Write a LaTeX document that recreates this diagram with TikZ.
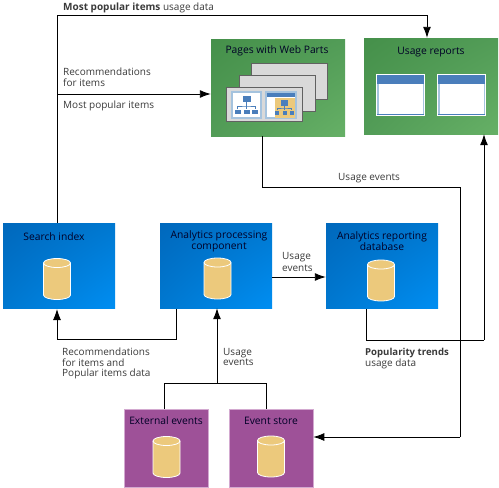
\documentclass[tikz,border=0pt]{standalone}
\usepackage{fontspec}
\setmainfont{Open Sans}
\usetikzlibrary{arrows.meta,shadings}
\definecolor{blueA}{HTML}{0068BC}
\definecolor{blueB}{HTML}{0078D0}
\definecolor{blueC}{HTML}{008EF2}
\definecolor{greenA}{HTML}{45904A}
\definecolor{greenB}{HTML}{529C57}
\definecolor{greenC}{HTML}{66B066}
\definecolor{plum}{HTML}{9E5198}
\definecolor{plumedge}{HTML}{D3A9D0}
\definecolor{dbfill}{HTML}{ECC97C}
\definecolor{webblue}{HTML}{4A7EBB}
\definecolor{webpale}{HTML}{A5C3DE}
\definecolor{sheetgray}{HTML}{D9D9D9}
\definecolor{labelgray}{HTML}{3A3A3A}
\tikzset{
  flow/.style={line width=0.9pt,line join=miter},
  arrowflow/.style={flow,-{Latex[length=11pt,width=8pt]}},
  bluebox/.style={rectangle,minimum width=112pt,minimum height=85pt,inner sep=0pt,
    upper left=blueA,upper right=blueB,lower left=blueB,lower right=blueC},
  greenbox/.style={rectangle,minimum width=134pt,minimum height=97pt,inner sep=0pt,
    upper left=greenA,upper right=greenB,lower left=greenB,lower right=greenC},
  plumbox/.style={rectangle,minimum width=84pt,minimum height=78pt,inner sep=0pt,
    fill=plum,draw=plumedge,line width=0.6pt},
  dbicon/.pic={
    \path[draw=white,fill=dbfill,line width=0.8pt,x=1pt,y=1pt] (-13.5,16)
      -- (-13.5,-16) arc[start angle=180,end angle=360,x radius=13.5,y radius=4.5]
      -- (13.5,16) arc[start angle=0,end angle=180,x radius=13.5,y radius=4.5] -- cycle;
    \draw[white,line width=0.8pt,x=1pt,y=1pt] (-13.5,16)
      arc[start angle=180,end angle=360,x radius=13.5,y radius=4.5];
  },
  boxtitle/.style={font=\fontsize{10.3}{10.8}\selectfont,align=center,text=black!85!blue,inner sep=0pt},
  flowlabel/.style={font=\fontsize{10}{10.7}\selectfont,align=left,text=labelgray,inner sep=0pt,anchor=west},
  sheet/.style={rectangle,draw=black!62,fill=sheetgray,line width=0.8pt,minimum width=76pt,minimum height=36pt,inner sep=0pt},
  webframe/.style={rectangle,draw=webpale,fill=white,line width=1.2pt,inner sep=0pt},
  webpart/.style={rectangle,fill=webblue,inner sep=0pt}
}
\begin{document}
\begin{tikzpicture}[x=1pt,y=-1pt]
\useasboundingbox (0,0) rectangle (499,488);

% boxes
\node[bluebox] (search) at (59,265.5) {};
\node[bluebox] (processing) at (216,265.5) {};
\node[bluebox] (reporting) at (382,265.5) {};
\node[greenbox] (pages) at (278,87.5) {};
\node[greenbox,minimum height=96pt] (reports) at (431,86) {};
\node[plumbox] (external) at (166.5,448) {};
\node[plumbox] (store) at (271,448) {};

% box titles
\node[boxtitle] (searchtitle) at (54,237) {Search index};
\node[boxtitle] (processingtitle) at (219,241.5) {Analytics processing\\component};
\node[boxtitle] (reportingtitle) at (382,241.5) {Analytics reporting\\database};
\node[boxtitle] (pagestitle) at (277,51) {Pages with Web Parts};
\node[boxtitle] (reportstitle) at (431,52) {Usage reports};
\node[boxtitle] (externaltitle) at (166,421) {External events};
\node[boxtitle] (storetitle) at (271,421) {Event store};

% databases
\pic (searchdb) at (57,279) {dbicon};
\pic (processingdb) at (217.5,278.5) {dbicon};
\pic (reportingdb) at (381,280.5) {dbicon};
\pic (externaldb) at (166.5,457) {dbicon};
\pic (storedb) at (271,456.5) {dbicon};

% web part pages
\node[sheet] (sheetback) at (289.5,81) {};
\node[sheet] (sheetmid) at (277,93) {};
\node[sheet,minimum height=34pt] (sheetfront) at (264,104) {};
\node[webframe,minimum width=29pt,minimum height=26pt] (orgframe) at (246.5,105) {};
\node[webpart,minimum width=8pt,minimum height=6pt] (orgtop) at (246.5,99) {};
\node[webpart,minimum width=6pt,minimum height=4pt] (orgleft) at (237.5,111.5) {};
\node[webpart,minimum width=6pt,minimum height=4pt] (orgmid) at (246.5,111.5) {};
\node[webpart,minimum width=6pt,minimum height=4pt] (orgright) at (255,111.5) {};
\draw[webblue,line width=0.6pt] (orgtop.south) -- (orgmid.north);
\draw[webblue,line width=0.6pt] (orgleft.north) |- (246.5,106) -| (orgright.north);
\node[webframe,minimum width=30pt,minimum height=26pt] (partframe) at (281,105) {};
\node[webpart,minimum width=28pt,minimum height=4pt] (partbar) at (281,95) {};
\node[rectangle,fill=dbfill,inner sep=0pt,minimum width=20pt,minimum height=20pt] (partzone) at (285,107.5) {};
\node[webpart,minimum width=7pt,minimum height=6pt] (parttop) at (284.5,102.5) {};
\node[webpart,minimum width=4pt,minimum height=4pt] (partleft) at (277,112.5) {};
\node[webpart,minimum width=4pt,minimum height=4pt] (partmid) at (284.5,112.5) {};
\node[webpart,minimum width=4pt,minimum height=4pt] (partright) at (291.5,112.5) {};
\draw[webblue,line width=0.6pt] (parttop.south) -- (partmid.north);
\draw[webblue,line width=0.6pt] (partleft.north) |- (284.5,108) -| (partright.north);

% report windows
\node[webframe,draw=white,fill=white,minimum width=47pt,minimum height=40pt] (windowA) at (400.5,95) {};
\node[webframe,draw=white,fill=white,minimum width=47pt,minimum height=40pt] (windowB) at (461.5,95) {};
\foreach \win in {windowA,windowB}{
  \draw[webpale,line width=1.2pt] ([shift={(1.5,1.5)}]\win.north west) rectangle ([shift={(-1.5,-1.5)}]\win.south east);
  \fill[webblue] ([shift={(1,1)}]\win.north west) rectangle ([shift={(-1,9.5)}]\win.north east);
  \draw[webblue,line width=0.8pt] ([shift={(1,-1.6)}]\win.south west) -- ([shift={(-1,-1.6)}]\win.south east);
}

% bends of the connectors
\coordinate (topleft) at (57,15);
\coordinate (topright) at (427,15);
\coordinate (recbranch) at (57,94);
\coordinate (recout) at (176,309);
\coordinate (recin) at (57,309);
\coordinate (eventjoin) at (217,383);
\coordinate (eventleft) at (164,383);
\coordinate (eventright) at (266,383);
\coordinate (pagesout) at (262,136);
\coordinate (pagesturn) at (460,187);
\coordinate (storein) at (460,437);
\coordinate (trendout) at (366,309);
\coordinate (trendturn) at (484,340);

% connectors
\draw[flow] (search.north -| topleft) -- (topleft) -- (topright);
\draw[arrowflow] (topright) -- (reports.north -| topright);
\draw[arrowflow] (recbranch) -- (pages.west |- recbranch);
\draw[arrowflow] (recout) |- (57,339) -- (recin);
\draw[arrowflow] (processing.east |- 0,277) -- (reporting.west |- 0,277);
\draw[arrowflow] (eventjoin) -- (eventjoin |- processing.south);
\draw[flow] (eventleft |- external.north) -- (eventleft) -- (eventright) -- (eventright |- store.north);
\draw[flow] (pagesout) |- (pagesturn) -- (storein);
\draw[arrowflow] (storein) -- (store.east |- storein);
\draw[flow] (trendout) |- (trendturn);
\draw[arrowflow] (trendturn) -- (trendturn |- reports.south);

% connector labels
\node[flowlabel] (toplabel) at (63,7.5) {\textbf{Most popular items} usage data};
\node[flowlabel] (reclabel) at (63,77.5) {Recommendations\\for items};
\node[flowlabel] (poplabel) at (63,105.5) {Most popular items};
\node[flowlabel] (pageslabel) at (338,178.5) {Usage events};
\node[flowlabel,font=\fontsize{10}{12}\selectfont] (analyticslabel) at (282,261.5) {Usage\\events};
\node[flowlabel] (datalabel) at (62,363.5) {Recommendations\\for items and\\Popular items data};
\node[flowlabel] (joinlabel) at (223,357) {Usage\\events};
\node[flowlabel] (trendlabel) at (365,358.5) {{\fontsize{9.6}{10.7}\selectfont\textbf{Popularity trends}}\\usage data};
\end{tikzpicture}
\end{document}
